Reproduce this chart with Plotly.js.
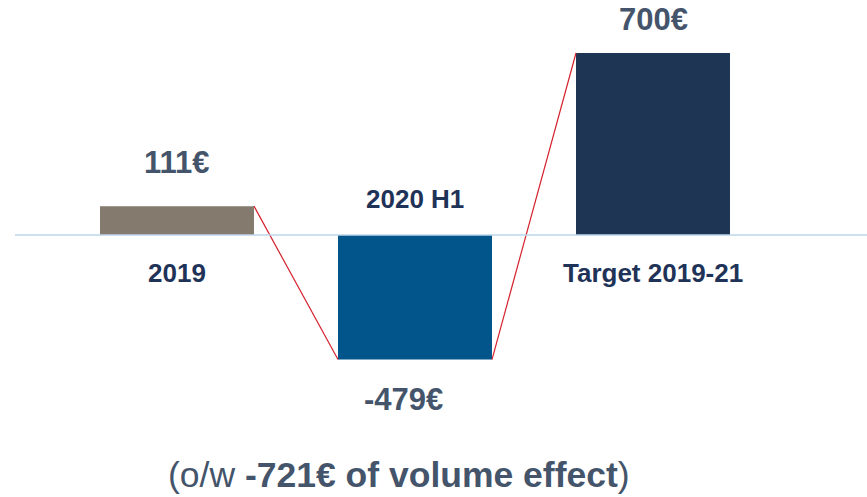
<!DOCTYPE html>
<html>
<head>
<meta charset="utf-8">
<script src="https://cdn.plot.ly/plotly-3.0.1.min.js"></script>
<style>html,body{margin:0;padding:0;background:#fff;}#chart{width:867px;height:497px;}</style>
</head>
<body>
<div id="chart"></div>
<script>
// Data
const categories = ["2019", "2020 H1", "Target 2019-21"];
const values = [111, -479, 700];
const valueLabels = ["111€", "-479€", "700€"];
const barColors = ["#857a6e", "#02558b", "#1e3654"];
const footnoteValue = "-721€";

const FONT = "Liberation Sans, Arial, sans-serif";
const idx = categories.map((c, i) => i);
const barWidth = 0.647;

const bars = {
  type: "bar",
  x: idx,
  y: values,
  width: barWidth,
  marker: { color: barColors, line: { width: 0 } },
  hoverinfo: "skip",
  showlegend: false
};

// connector lines from end of one bar to start of next bar
const connectors = [];
for (let i = 0; i < values.length - 1; i++) {
  connectors.push({
    type: "scatter", mode: "lines",
    x: [idx[i] + barWidth / 2, idx[i + 1] - barWidth / 2],
    y: [values[i], values[i + 1]],
    line: { color: "#d4202c", width: 1.2 },
    hoverinfo: "skip", showlegend: false
  });
}

const annotations = [];
values.forEach((v, i) => {
  annotations.push({
    x: idx[i], y: v, xref: "x", yref: "y",
    text: "<b>" + valueLabels[i] + "</b>",
    showarrow: false,
    yshift: v >= 0 ? (i === 2 ? 34 : 44) : -40,
    xshift: v < 0 ? -12 : 0,
    font: { family: FONT, size: 31, color: "#44546a" }
  });
  annotations.push({
    x: idx[i], y: 0, xref: "x", yref: "y",
    text: "<b>" + categories[i] + "</b>",
    showarrow: false,
    yshift: v >= 0 ? -38 : 36,
    font: { family: FONT, size: 26, color: "#1f3358" }
  });
});
annotations.push({
  x: 399 / 867, y: 1 - 475 / 497, xref: "paper", yref: "paper",
  yanchor: "middle", xanchor: "center",
  text: "(o/w <b>" + footnoteValue + " of volume effect</b>)",
  showarrow: false,
  font: { family: FONT, size: 35.5, color: "#44546a" }
});

const scale = 0.26; // px per unit
const layout = {
  width: 867, height: 497,
  margin: { l: 0, r: 0, t: 0, b: 0, pad: 0 },
  paper_bgcolor: "#ffffff", plot_bgcolor: "#ffffff",
  xaxis: { type: "linear", range: [-177 / 238, 690 / 238], visible: false, fixedrange: true },
  yaxis: { range: [-262 / scale, 235 / scale], visible: false, fixedrange: true },
  shapes: [{
    type: "line", xref: "paper", yref: "y",
    x0: 15 / 867, x1: 1, y0: 0, y1: 0,
    line: { color: "#bcd6ea", width: 1.5 }, layer: "above"
  }],
  annotations: annotations,
  showlegend: false,
  font: { family: FONT }
};

Plotly.newPlot("chart", [bars].concat(connectors), layout, { displayModeBar: false, staticPlot: true });
</script>
</body>
</html>
